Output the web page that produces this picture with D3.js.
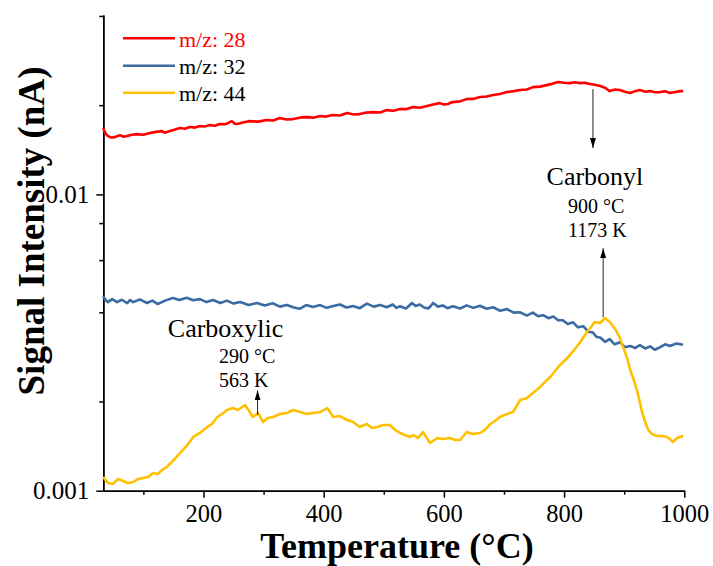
<!DOCTYPE html>
<html>
<head>
<meta charset="utf-8">
<script src="https://cdn.jsdelivr.net/npm/d3@7"></script>
<style>
  html, body { margin: 0; padding: 0; background: #fff; }
  svg { display: block; }
  text { font-family: "Liberation Serif", "Times New Roman", serif; fill: #000; }
</style>
</head>
<body>
<svg id="chart" width="713" height="566"></svg>
<script>
// ---------- data (temperature in °C, signal in nA) ----------
const seriesNames = ["m/z: 28", "m/z: 32", "m/z: 44"];

const temp28 = [33,36,39,46,53,57,61,67,73,81,89,100,111,121,131,135,139,150,161,169,177,186,194,202,211,219,227,237,247,252,256,267,277,291,305,316,327,338,349,360,372,383,394,404,415,427,439,450,460,471,482,494,505,516,527,538,549,560,572,582,593,600,607,611,615,627,638,649,660,671,682,693,705,716,727,738,748,760,771,780,790,800,810,818,826,835,843,851,860,868,876,885,893,901,910,918,926,935,943,951,960,968,976,985,993,998];
const signal28 = [.01674,.01620,.01584,.01555,.01560,.01575,.01584,.01565,.01573,.01590,.01597,.01590,.01610,.01625,.01635,.01615,.01623,.01650,.01674,.01665,.01687,.01680,.01700,.01695,.01713,.01705,.01727,.01725,.01767,.01730,.01727,.01750,.01767,.01760,.01781,.01775,.01809,.01790,.01795,.01815,.01823,.01815,.01838,.01830,.01852,.01845,.01881,.01860,.01866,.01890,.01895,.01890,.01925,.01915,.01940,.01940,.01970,.01960,.01986,.02010,.02032,.02010,.02017,.02040,.02048,.02060,.02097,.02100,.02130,.02140,.02163,.02180,.02214,.02230,.02249,.02260,.02301,.02310,.02337,.02360,.02393,.02380,.02374,.02390,.02374,.02380,.02356,.02345,.02320,.02290,.02231,.02260,.02249,.02220,.02197,.02230,.02249,.02220,.02231,.02210,.02214,.02230,.02197,.02215,.02231,.02231];

const temp32 = [33,37,41,48,56,64,73,78,83,94,106,115,124,136,149,160,172,183,194,205,216,228,239,250,261,275,289,302,315,327,339,349,360,371,382,394,405,416,427,438,449,460,472,483,494,505,515,521,527,537,547,553,560,567,574,578,582,590,598,606,615,627,638,649,660,671,682,693,705,716,727,738,748,757,765,774,782,790,798,806,815,823,832,840,848,854,860,868,876,884,893,901,910,918,926,935,943,951,960,968,976,987,998];
const signal32 = [.004538,.004400,.004331,.004430,.004330,.004410,.004298,.004400,.004330,.004420,.004300,.004380,.004265,.004380,.004468,.004400,.004480,.004390,.004430,.004330,.004400,.004300,.004380,.004280,.004330,.004230,.004300,.004220,.004290,.004180,.004230,.004160,.004110,.004230,.004170,.004230,.004140,.004200,.004250,.004150,.004200,.004130,.004280,.004180,.004230,.004160,.004250,.004140,.004190,.004120,.004300,.004200,.004250,.004150,.004120,.004200,.004300,.004180,.004220,.004130,.004190,.004120,.004220,.004140,.004210,.004110,.004160,.004050,.004100,.003990,.004000,.003900,.003990,.003880,.003910,.003820,.003870,.003760,.003760,.003650,.003700,.003560,.003590,.003440,.003420,.003300,.003290,.003180,.003250,.003120,.003170,.003050,.003080,.003030,.003100,.003020,.003070,.002990,.003050,.003120,.003080,.003140,.003110];

const temp44 = [33,41,49,58,66,74,83,91,99,108,116,124,131,139,149,161,173,183,194,206,214,223,231,239,249,257,269,276,282,291,299,307,316,327,339,349,361,372,382,394,406,416,427,439,449,460,472,480,489,499,510,519,527,535,544,549,557,565,577,589,599,610,619,627,638,648,660,668,677,685,693,705,715,727,738,748,760,768,777,785,793,802,810,818,827,838,845,851,860,868,876,886,893,898,905,910,916,921,926,930,935,940,946,955,963,971,976,981,988,993,998];
const signal44 = [.001112,.001062,.001053,.001095,.001078,.001062,.001070,.001095,.001104,.001112,.001148,.001139,.001174,.001202,.001260,.001340,.001426,.001518,.001566,.001640,.001679,.001773,.001815,.001872,.001901,.001872,.001946,.001857,.001773,.001829,.001705,.001759,.001773,.001815,.001829,.001872,.001843,.001815,.001829,.001843,.001901,.001773,.001786,.001732,.001705,.001640,.001679,.001628,.001640,.001666,.001666,.001602,.001566,.001542,.001518,.001542,.001506,.001578,.001449,.001506,.001494,.001506,.001483,.001483,.001578,.001554,.001566,.001602,.001679,.001719,.001773,.001815,.001843,.002023,.002055,.002136,.002238,.002326,.002419,.002535,.002655,.002761,.002870,.003007,.003175,.003432,.003568,.003709,.003680,.003826,.003709,.003485,.003276,.003053,.002804,.002554,.002363,.002187,.001992,.001829,.001705,.001602,.001554,.001530,.001530,.001518,.001494,.001460,.001506,.001518,.001530];

const xMajorTicks = [200, 400, 600, 800, 1000];
const xMinorTicks = [100, 300, 500, 700, 900];
const yMajorTicks = [0.001, 0.01];
const yMajorLabels = ["0.001", "0.01"];
const yMinorTicks = [0.002, 0.004, 0.006, 0.008, 0.02, 0.04];

// annotations: arrow temperature, arrow start/end signal
const arrowTemps = [848, 865, 290];
const arrowFrom  = [0.02265, 0.00385, 0.00180];
const arrowTo    = [0.01433, 0.00658, 0.00218];
const noteTitles = ["Carbonyl", "Carboxylic"];
const noteLines  = [["900 °C", "1173 K"], ["290 °C", "563 K"]];

// ---------- layout ----------
const margin = { left: 103.3, right: 713 - 684.3, top: 15, bottom: 566 - 490.7 };
const W = 713, H = 566;
const iw = W - margin.left - margin.right;
const ih = H - margin.top - margin.bottom;

const colors = ["#ff0000", "#3a6ba3", "#ffc000"];

const svg = d3.select("#chart");
const g = svg.append("g").attr("transform", `translate(${margin.left},${margin.top})`);

const x = d3.scaleLinear().domain([33.3, 1000]).range([0, iw]);
const y = d3.scaleLog().domain([0.001, 0.0403]).range([ih, 0]);

// ---------- axes ----------
const axisStyle = sel => {
  sel.select(".domain").attr("stroke", "#000").attr("stroke-width", 1.5);
  sel.selectAll(".tick line").attr("stroke", "#000").attr("stroke-width", 1.5);
};

const xMinor = g.append("g").attr("transform", `translate(0,${ih})`)
  .call(d3.axisBottom(x).tickValues(xMinorTicks).tickSize(4).tickSizeOuter(0).tickFormat(""));
axisStyle(xMinor);
xMinor.selectAll(".tick text").remove();
const xAxis = g.append("g").attr("transform", `translate(0,${ih})`)
  .call(d3.axisBottom(x).tickValues(xMajorTicks).tickSize(7).tickSizeOuter(0).tickFormat(d3.format("d")));
axisStyle(xAxis);
xAxis.selectAll(".tick text")
  .attr("y", 31.5).attr("dy", null)
  .style("font-size", "24.5px")
  .style("font-family", '"Liberation Serif", "Times New Roman", serif')
  .attr("fill", "#000");

const yMinor = g.append("g")
  .call(d3.axisLeft(y).tickValues(yMinorTicks).tickSize(4).tickSizeOuter(0).tickFormat(""));
axisStyle(yMinor);
yMinor.selectAll(".tick text").remove();
const yAxis = g.append("g")
  .call(d3.axisLeft(y).tickValues(yMajorTicks).tickSize(7).tickSizeOuter(0)
    .tickFormat((d, i) => yMajorLabels[i]));
axisStyle(yAxis);
yAxis.selectAll(".tick text")
  .attr("x", -14)
  .style("font-size", "25px")
  .style("font-family", '"Liberation Serif", "Times New Roman", serif')
  .attr("fill", "#000");

// axis titles
svg.append("text")
  .attr("x", 397).attr("y", 558)
  .attr("text-anchor", "middle")
  .style("font-size", "36px").style("font-weight", "bold")
  .text("Temperature (°C)");

svg.append("text")
  .attr("transform", "translate(44,231) rotate(-90)")
  .attr("text-anchor", "middle")
  .style("font-size", "37px").style("font-weight", "bold")
  .text("Signal Intensity (nA)");

// ---------- series ----------
const series = [
  temp28.map((t, i) => [t, signal28[i]]),
  temp32.map((t, i) => [t, signal32[i]]),
  temp44.map((t, i) => [t, signal44[i]])
];

const line = d3.line().x(d => x(d[0])).y(d => y(d[1]));

series.forEach((s, i) => {
  g.append("path")
    .datum(s)
    .attr("fill", "none")
    .attr("stroke", colors[i])
    .attr("stroke-width", 2.6)
    .attr("stroke-linejoin", "round")
    .attr("d", line);
});

// ---------- legend ----------
const legendY = [38.3, 65.7, 92.7];
seriesNames.forEach((name, i) => {
  svg.append("line")
    .attr("x1", 123).attr("x2", 175)
    .attr("y1", legendY[i]).attr("y2", legendY[i])
    .attr("stroke", colors[i]).attr("stroke-width", 2.6);
  svg.append("text")
    .attr("x", 179).attr("y", legendY[i] + 8.4)
    .style("font-size", "22px")
    .style("fill", i === 0 ? colors[0] : "#000")
    .text(name);
});

// ---------- annotations ----------
const defs = svg.append("defs");
defs.append("marker")
  .attr("id", "head")
  .attr("viewBox", "0 0 10 10")
  .attr("refX", 10).attr("refY", 5)
  .attr("markerWidth", 10).attr("markerHeight", 10)
  .attr("markerUnits", "userSpaceOnUse")
  .attr("orient", "auto")
  .append("path")
  .attr("d", "M0,2 L10,5 L0,8 Z")
  .attr("fill", "#000");

arrowTemps.forEach((t, i) => {
  g.append("line")
    .attr("x1", x(t)).attr("x2", x(t))
    .attr("y1", y(arrowFrom[i])).attr("y2", y(arrowTo[i]))
    .attr("stroke", "#222").attr("stroke-width", 1)
    .attr("marker-end", "url(#head)");
});

// Carbonyl label
const cx = x(arrowTemps[0]);
g.append("text")
  .attr("x", cx + 2).attr("y", 185 - margin.top)
  .attr("text-anchor", "middle")
  .style("font-size", "26px")
  .text(noteTitles[0]);
noteLines[0].forEach((t, j) => {
  g.append("text")
    .attr("x", cx - 25).attr("y", 213 - margin.top + j * 24)
    .style("font-size", "20px")
    .text(t);
});

// Carboxylic label
const kx = x(arrowTemps[2]);
g.append("text")
  .attr("x", kx - 32).attr("y", 337 - margin.top)
  .attr("text-anchor", "middle")
  .style("font-size", "26px")
  .text(noteTitles[1]);
noteLines[1].forEach((t, j) => {
  g.append("text")
    .attr("x", kx - 38.5).attr("y", 363.3 - margin.top + j * 24)
    .style("font-size", "20px")
    .text(t);
});
</script>
</body>
</html>
